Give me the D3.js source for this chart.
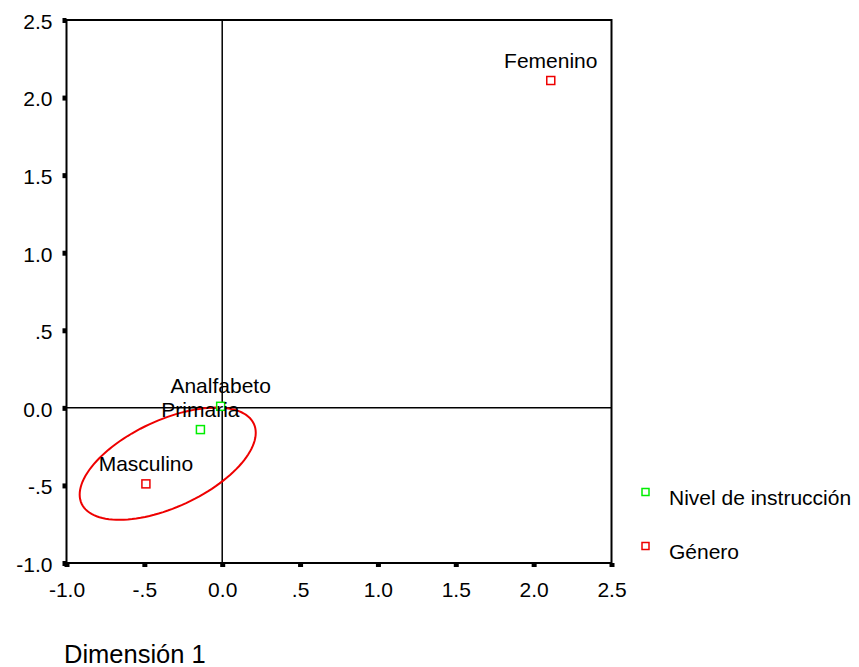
<!DOCTYPE html>
<html>
<head>
<meta charset="utf-8">
<script src="https://cdn.jsdelivr.net/npm/d3@7"></script>
<style>
  html, body { margin: 0; padding: 0; background: #fff; overflow: hidden; }
  svg { display: block; font-family: "Liberation Sans", Arial, sans-serif; }
</style>
</head>
<body>
<svg id="chart" width="859" height="667"></svg>
<script>
// Category quantifications (Dimension 1, Dimension 2)
const labels = ["Femenino", "Masculino", "Primaria", "Analfabeto"];
const groups = ["Género", "Género", "Nivel de instrucción", "Nivel de instrucción"];
const dim1 = [2.11, -0.49, -0.14, -0.01];
const dim2 = [2.11, -0.49, -0.14, 0.01];

// Tick values and labels
const tickValues = [-1.0, -0.5, 0.0, 0.5, 1.0, 1.5, 2.0, 2.5];
const tickLabels = ["-1.0", "-.5", "0.0", ".5", "1.0", "1.5", "2.0", "2.5"];

// Legend entries
const legendNames = ["Nivel de instrucción", "Género"];
const legendColors = ["#00ee00", "#ee0000"];

// Grouping ellipse (center, semi-axes, rotation in degrees)
const ellipseCenter = [-0.35, -0.36];
const ellipseAxes = [0.61, 0.28];
const ellipseAngle = 25;

const svg = d3.select("#chart");
const plotLeft = 66.5, plotRight = 611.5, plotTop = 20, plotBottom = 563;
const fontSize = 21;

const x = d3.scaleLinear().domain([-1, 2.5]).range([plotLeft, plotRight]);
const y = d3.scaleLinear().domain([-1, 2.5]).range([plotBottom, plotTop]);
const color = d3.scaleOrdinal().domain(legendNames).range(legendColors);
const labelOf = d3.scaleOrdinal().domain(tickValues).range(tickLabels);

// Frame
svg.append("rect")
  .attr("x", plotLeft).attr("y", plotTop)
  .attr("width", plotRight - plotLeft).attr("height", plotBottom - plotTop)
  .attr("fill", "none").attr("stroke", "#000").attr("stroke-width", 2);

// Reference lines at zero
svg.append("line")
  .attr("x1", x(0)).attr("x2", x(0)).attr("y1", plotTop).attr("y2", plotBottom)
  .attr("stroke", "#000").attr("stroke-width", 1.5);
svg.append("line")
  .attr("x1", plotLeft).attr("x2", plotRight).attr("y1", y(0)).attr("y2", y(0))
  .attr("stroke", "#000").attr("stroke-width", 1.5);

// Axes
const xAxis = d3.axisBottom(x).tickValues(tickValues).tickFormat(d => labelOf(d)).tickSize(0).tickPadding(19);
const yAxis = d3.axisLeft(y).tickValues(tickValues).tickFormat(d => labelOf(d)).tickSize(0).tickPadding(14);

const gx = svg.append("g").attr("transform", `translate(0,${plotBottom})`).call(xAxis);
const gy = svg.append("g").attr("transform", `translate(${plotLeft},0)`).call(yAxis);
[gx, gy].forEach(g => {
  g.select(".domain").remove();
  g.selectAll("text").attr("font-size", fontSize).attr("fill", "#000")
    .attr("font-family", "'Liberation Sans', Arial, sans-serif");
});
gx.selectAll("text").attr("dy", "0.71em");
gy.selectAll("text").attr("dy", "0.4em");

// Square tick marks
gx.selectAll(".tick").append("rect")
  .attr("x", -2.5).attr("y", 0).attr("width", 5).attr("height", 4).attr("fill", "#000");
gy.selectAll(".tick").append("rect")
  .attr("x", -4).attr("y", -2.5).attr("width", 4).attr("height", 5).attr("fill", "#000");

// Grouping ellipse
const ellipsePts = d3.range(0, 361, 3).map(deg => {
  const t = deg * Math.PI / 180, r = ellipseAngle * Math.PI / 180;
  const ex = ellipseAxes[0] * Math.cos(t), ey = ellipseAxes[1] * Math.sin(t);
  return [ellipseCenter[0] + ex * Math.cos(r) - ey * Math.sin(r),
          ellipseCenter[1] + ex * Math.sin(r) + ey * Math.cos(r)];
});
svg.append("path")
  .attr("d", d3.line().x(d => x(d[0])).y(d => y(d[1])).curve(d3.curveLinearClosed)(ellipsePts))
  .attr("fill", "none").attr("stroke", "#ee0000").attr("stroke-width", 2);

// Points
const pts = labels.map((l, i) => ({ label: l, group: groups[i], d1: dim1[i], d2: dim2[i] }));
svg.selectAll(".pt").data(pts).enter().append("rect")
  .attr("class", "pt")
  .attr("x", d => x(d.d1) - 4).attr("y", d => y(d.d2) - 4)
  .attr("width", 8).attr("height", 8)
  .attr("fill", "#fff").attr("stroke", d => color(d.group)).attr("stroke-width", 1.5);

svg.selectAll(".lbl").data(pts).enter().append("text")
  .attr("class", "lbl")
  .attr("x", d => x(d.d1)).attr("y", d => y(d.d2) - 13)
  .attr("text-anchor", "middle").attr("font-size", fontSize).attr("fill", "#000")
  .text(d => d.label);

// Legend
const lg = svg.selectAll(".lg").data(legendNames).enter().append("g")
  .attr("transform", (d, i) => `translate(645.5,${492 + i * 54})`);
lg.append("rect").attr("x", -3.5).attr("y", -3.5).attr("width", 7).attr("height", 7)
  .attr("fill", "#fff").attr("stroke", d => color(d)).attr("stroke-width", 1.5);
lg.append("text").attr("x", 23.5).attr("y", 13).attr("font-size", fontSize).attr("fill", "#000").text(d => d);

// Axis title
svg.append("text").attr("x", 64).attr("y", 663).attr("font-size", 25.5).attr("fill", "#000").text("Dimensión 1");
</script>
</body>
</html>
